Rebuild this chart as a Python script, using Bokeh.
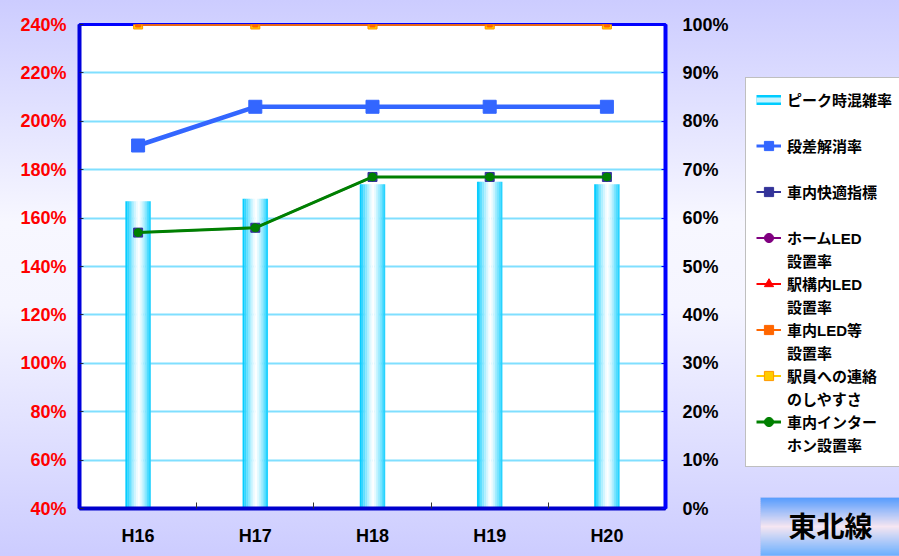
import numpy as np
from bokeh.plotting import figure
from bokeh.layouts import row
from bokeh.models import (Range1d, LinearAxis, FixedTicker, PrintfTickFormatter, Legend,
                          LegendItem, ColumnDataSource, Label, BoxAnnotation)
from bokeh.transform import dodge
from bokeh.embed import file_html
from bokeh.resources import INLINE

# ---------------- data ----------------
categories = ["H16", "H17", "H18", "H19", "H20"]
peak_congestion = [167, 168, 174, 175, 174]          # left axis (%)
step_resolution = [75, 83, 83, 83, 83]               # right axis (%)
comfort_index = [57, 58, 68.5, 68.5, 68.5]
home_led = [100, 100, 100, 100, 100]
station_led = [100, 100, 100, 100, 100]
car_led = [100, 100, 100, 100, 100]
staff_contact = [100, 100, 100, 100, 100]
intercom = [57, 58, 68.5, 68.5, 68.5]
left_ticks = [40, 60, 80, 100, 120, 140, 160, 180, 200, 220, 240]
right_ticks = [0, 10, 20, 30, 40, 50, 60, 70, 80, 90, 100]
line_name = "東北線"

FONT = "Liberation Sans, Noto Sans CJK JP, sans-serif"
BG = {"background": "linear-gradient(180deg, #ccccff 0%, #f7f7ff 40%, #f5f5ff 55%, #ccccff 100%)"}

H = 556
W1 = 742
W2 = 899 - W1

p = figure(width=W1, height=H, output_backend="svg", toolbar_location=None,
           x_range=Range1d(0, 5), y_range=Range1d(40, 240),
           min_border_left=79, min_border_right=W1 - 665, min_border_top=24, min_border_bottom=H - 508)
p.frame_align = False
p.extra_y_ranges = {"right": Range1d(0, 100)}
p.background_fill_color = "white"
p.border_fill_color = None
p.styles = BG
p.outline_line_color = "#0000FF"
p.outline_line_width = 3

# x axis
xa = p.xaxis[0]
xa.ticker = FixedTicker(ticks=[i + 0.5 for i in range(len(categories))],
                        minor_ticks=[i for i in range(1, len(categories))])
xa.major_label_overrides = {i + 0.5: c for i, c in enumerate(categories)}
xa.major_tick_in = 0
xa.major_tick_out = 0
xa.minor_tick_in = 6
xa.minor_tick_out = 0
xa.minor_tick_line_color = "#333333"
xa.axis_line_color = "#0000CC"
xa.axis_line_width = 4
xa.major_label_text_font = FONT
xa.major_label_text_font_style = "bold"
xa.major_label_text_font_size = "18px"
xa.major_label_text_color = "#000000"
xa.major_label_standoff = 17

# left axis
ya = p.yaxis[0]
ya.ticker = FixedTicker(ticks=left_ticks, minor_ticks=[])
ya.formatter = PrintfTickFormatter(format="%d%%")
ya.major_label_text_color = "#FF0000"
ya.major_label_text_font = FONT
ya.major_label_text_font_style = "bold"
ya.major_label_text_font_size = "18px"
ya.major_tick_in = 4
ya.major_tick_out = 0
ya.major_tick_line_color = "#222244"
ya.minor_tick_line_color = None
ya.axis_line_color = "#0000DD"
ya.axis_line_width = 4
ya.major_label_standoff = 13

# right axis
ra = LinearAxis(y_range_name="right", ticker=FixedTicker(ticks=right_ticks, minor_ticks=[]),
                formatter=PrintfTickFormatter(format="%d%%"))
ra.major_label_text_color = "#000000"
ra.major_label_text_font = FONT
ra.major_label_text_font_style = "bold"
ra.major_label_text_font_size = "18px"
ra.major_tick_in = 4
ra.major_tick_out = 0
ra.major_tick_line_color = "#0000FF"
ra.minor_tick_line_color = None
ra.axis_line_color = "#0000FF"
ra.axis_line_width = 4
ra.major_label_standoff = 17
p.add_layout(ra, "right")

# grid
p.xgrid.visible = False
p.ygrid[0].ticker = FixedTicker(ticks=left_ticks[1:-1], minor_ticks=[])
p.ygrid[0].grid_line_color = "#80DFFF"
p.ygrid[0].grid_line_width = 2

# ---------------- bars (cylinder look) ----------------
src = ColumnDataSource(dict(
    x=[i + 0.5 for i in range(len(categories))],
    peak=peak_congestion, step=step_resolution, comfort=comfort_index,
    home=home_led, station=station_led, car=car_led, staff=staff_contact, intercom=intercom))

bw = 0.215
n = 14
sw = bw / n
cyan = np.array([0x00, 0xCC, 0xFF])
white = np.array([0xFF, 0xFF, 0xFF])
for i in range(n):
    t = (i + 0.5) / n
    m = min(1.0, abs(2 * t - 1.05) ** 1.3)
    c = (cyan * m + white * (1 - m)).astype(int)
    p.vbar(x=dodge("x", -bw / 2 + (i + 0.5) * sw), top="peak", bottom=40, width=sw * 1.15,
           source=src, fill_color="#%02x%02x%02x" % tuple(c), line_color=None)

# ---------------- lines ----------------
series = [
    # key, label lines, line color, line width, marker, marker size, fill, marker line
    ("home", ["ホームLED", "設置率"], "#800080", 2, "circle", 8, "#800080", "#800080"),
    ("station", ["駅構内LED", "設置率"], "#FF0000", 2, "triangle", 9, "#FF0000", "#FF0000"),
    ("staff", ["駅員への連絡", "のしやすさ"], "#FFCC00", 2, "square", 9, "#FFCC00", "#FF9900"),
    ("car", ["車内LED等", "設置率"], "#FF6600", 2, "square", 5, "#FF6600", "#FF6600"),
    ("step", ["段差解消率"], "#3366FF", 4.5, "square", 13, "#3366FF", "#3366FF"),
    ("comfort", ["車内快適指標"], "#333399", 2, "square", 9, "#333399", "#333399"),
    ("intercom", ["車内インター", "ホン設置率"], "#008000", 3, "circle", 8, "#008000", "#008000"),
]
for key, lab, lc, lw, mk, ms, fc, mlc in series:
    p.line("x", key, source=src, y_range_name="right", line_color=lc, line_width=lw)
    p.scatter("x", key, source=src, y_range_name="right", marker=mk, size=ms,
              fill_color=fc, line_color=mlc)

# ---------------- side panel: legend + badge ----------------
q = figure(width=W2, height=H, output_backend="svg", toolbar_location=None,
           x_range=Range1d(0, 1), y_range=Range1d(0, 1),
           x_axis_location=None, y_axis_location=None,
           min_border_left=0, min_border_right=0, min_border_top=0, min_border_bottom=0)
q.frame_align = False
q.grid.visible = False
q.outline_line_color = None
q.background_fill_color = None
q.border_fill_color = None
q.styles = BG

# hidden legend proxies (only their legend glyphs are shown)
proxy = {}
proxy["bar"] = [q.line("x", "peak", source=src, line_color="#00CCFF", line_width=10, visible=False),
                q.line("x", "peak", source=src, line_color="#c8f4ff", line_width=5, visible=False)]
for key, lab, lc, lw, mk, ms, fc, mlc in series:
    proxy[key] = [q.line("x", key, source=src, line_color=lc, line_width=min(lw, 3), visible=False),
                  q.scatter("x", key, source=src, marker=mk, size=ms, fill_color=fc, line_color=mlc,
                            visible=False)]
blank = [q.line("x", "peak", source=src, line_alpha=0, visible=False)]
labels = {key: lab for key, lab, *_ in series}
order = ["step", "comfort", "home", "station", "car", "staff", "intercom"]

items = [LegendItem(label="ピーク時混雑率", renderers=proxy["bar"]),
         LegendItem(label=" ", renderers=blank)]
for k in order:
    lines = labels[k]
    items.append(LegendItem(label=lines[0], renderers=proxy[k]))
    items.append(LegendItem(label=lines[1] if len(lines) > 1 else " ", renderers=blank))

legend = Legend(items=items, location=(3, 89))
legend.label_text_font = FONT
legend.label_text_font_size = "15px"
legend.label_text_font_style = "bold"
legend.label_text_color = "#000000"
legend.label_standoff = 6
legend.glyph_width = 25
legend.glyph_height = 23
legend.label_height = 23
legend.spacing = 0
legend.padding = 10
legend.margin = 0
legend.inactive_fill_alpha = 0
legend.border_line_color = "#808080"
legend.border_line_width = 1
legend.background_fill_color = "white"
legend.background_fill_alpha = 1
q.add_layout(legend)

# badge with vertical gradient (thin stripes), frame-relative screen units
top_y, bot_y = 59, 1
stops = [(0x55, 0x9C, 0xFF), (0xF6, 0xE6, 0xF2), (0x6C, 0xB0, 0xFF)]
ns = 29
hh = (top_y - bot_y) / ns
for k in range(ns):
    t = (k + 0.5) / ns
    a, b, u = (stops[0], stops[1], t / 0.5) if t <= 0.5 else (stops[1], stops[2], (t - 0.5) / 0.5)
    c = tuple(int(a[j] + (b[j] - a[j]) * u) for j in range(3))
    q.add_layout(BoxAnnotation(left=18, right=W2 + 2, top=top_y - k * hh, bottom=top_y - (k + 1) * hh - 0.6,
                               left_units="screen", right_units="screen",
                               top_units="screen", bottom_units="screen",
                               fill_color="#%02x%02x%02x" % c, fill_alpha=1, line_color=None))
q.add_layout(BoxAnnotation(left=18, right=W2 + 2, top=top_y, bottom=bot_y,
                           left_units="screen", right_units="screen",
                           top_units="screen", bottom_units="screen",
                           fill_alpha=0, line_color="#c8c8f0", line_width=1))
q.add_layout(Label(x=88, y=29, x_units="screen", y_units="screen", text=line_name,
                   text_font=FONT, text_font_size="28px", text_font_style="bold",
                   text_color="#000000", text_align="center", text_baseline="middle"))

layout = row(p, q, spacing=0)
open("out.html", "w").write(file_html(layout, INLINE))
